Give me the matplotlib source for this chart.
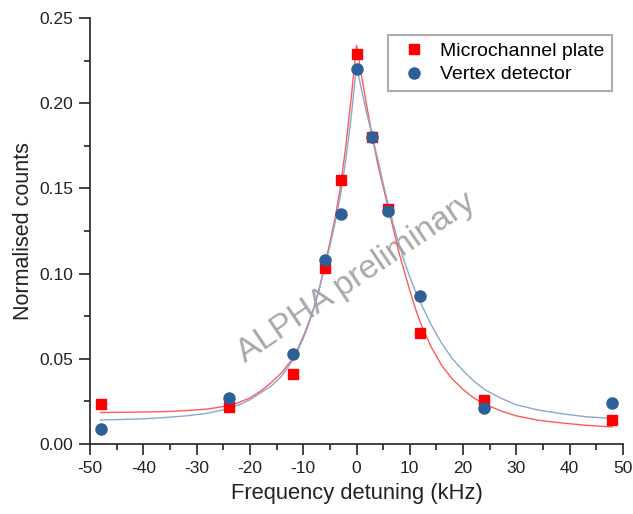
import matplotlib
matplotlib.use("Agg")
import matplotlib.pyplot as plt
from matplotlib.ticker import MultipleLocator, FormatStrFormatter

plt.rcParams['font.family'] = ['Liberation Sans', 'DejaVu Sans']
plt.rcParams['axes.unicode_minus'] = False

# Measured data
detuning = [-48, -24, -12, -6, -3, 0, 3, 6, 12, 24, 48]
mcp_counts = [0.0235, 0.0215, 0.041, 0.103, 0.155, 0.229, 0.180, 0.138, 0.065, 0.026, 0.014]
vertex_counts = [0.009, 0.027, 0.053, 0.108, 0.135, 0.220, 0.180, 0.137, 0.087, 0.021, 0.024]

# Fitted curves
fit_x = [-48, -44, -40, -36, -32, -28, -24, -22, -20, -18, -16, -14,
         -12, -11, -10, -9, -8, -7, -6, -5, -4, -3, -2, -1,
         0,
         1, 2, 3, 4, 5, 6, 7, 8, 9, 10, 11, 12,
         14, 16, 18, 20, 22, 24, 27, 30, 34, 38, 43, 48]
mcp_fit = [0.0185, 0.0186, 0.0188, 0.019, 0.0196, 0.0205, 0.0225, 0.0245, 0.027, 0.031, 0.036, 0.042,
           0.050, 0.056, 0.063, 0.071, 0.080, 0.091, 0.104, 0.118, 0.133, 0.151, 0.175, 0.203,
           0.234,
           0.215, 0.197, 0.180, 0.164, 0.151, 0.138, 0.125, 0.112, 0.101, 0.090, 0.080, 0.071,
           0.057, 0.046, 0.038, 0.032, 0.027, 0.0235, 0.0195, 0.0165, 0.014, 0.0125, 0.011, 0.010]
vertex_fit = [0.0141, 0.0144, 0.0148, 0.0155, 0.0165, 0.018, 0.0208, 0.023, 0.026, 0.030, 0.034, 0.040,
              0.049, 0.055, 0.062, 0.070, 0.080, 0.091, 0.104, 0.116, 0.130, 0.146, 0.167, 0.192,
              0.222,
              0.207, 0.193, 0.180, 0.167, 0.153, 0.140, 0.128, 0.117, 0.107, 0.098, 0.090, 0.083,
              0.070, 0.059, 0.050, 0.043, 0.037, 0.032, 0.027, 0.023, 0.020, 0.018, 0.016, 0.015]

fig = plt.figure(figsize=(6.33, 5.14), dpi=100)
ax = fig.add_axes([90/633, 1-444/514, (623-90)/633, (444-18)/514])

ax.plot(fit_x, mcp_fit, color='#ff5a5a', lw=1.0, zorder=2)
ax.plot(fit_x, vertex_fit, color='#8aa8cc', lw=1.0, zorder=2)
ax.plot(detuning, mcp_counts, 's', color='#ff0000', ms=7.5, mec='#ff0000', label='Microchannel plate', zorder=3)
ax.plot(detuning, vertex_counts, 'o', color='#2e6097', ms=8, mec='#2e6097', label='Vertex detector', zorder=3)

ax.set_xlim(-50, 50)
ax.set_ylim(0, 0.25)
ax.xaxis.set_major_locator(MultipleLocator(10))
ax.xaxis.set_minor_locator(MultipleLocator(5))
ax.yaxis.set_major_locator(MultipleLocator(0.05))
ax.yaxis.set_minor_locator(MultipleLocator(0.025))
ax.yaxis.set_major_formatter(FormatStrFormatter('%.2f'))
for s in ['top', 'right']:
    ax.spines[s].set_visible(False)
for s in ['left', 'bottom']:
    ax.spines[s].set_linewidth(1.2)
    ax.spines[s].set_color('#222222')
ax.tick_params(which='major', direction='out', length=8, width=1.2, labelsize=12.5, colors='#222222', pad=4)
ax.tick_params(which='minor', direction='out', length=4, width=1.2, colors='#222222')
ax.set_xlabel('Frequency detuning (kHz)', fontsize=15.8, color='#222222', labelpad=5)
ax.set_ylabel('Normalised counts', fontsize=15.5, color='#222222', labelpad=3.5)

leg = ax.legend(loc='upper right', frameon=True, fancybox=False, borderaxespad=0,
                fontsize=14, handletextpad=0.45, borderpad=0.38, labelspacing=0.3, handlelength=1.85)
leg.set_bbox_to_anchor((612/633, 1-35/514), transform=fig.transFigure)
leg.get_frame().set_edgecolor('#999999')
leg.get_frame().set_linewidth(1.5)

ax.text(0.50, 0.39, 'ALPHA preliminary', transform=ax.transAxes, rotation=34,
        fontsize=24, color='#a8a8a8', ha='center', va='center', rotation_mode='anchor', zorder=1)

fig.savefig('out.png', dpi=100)
